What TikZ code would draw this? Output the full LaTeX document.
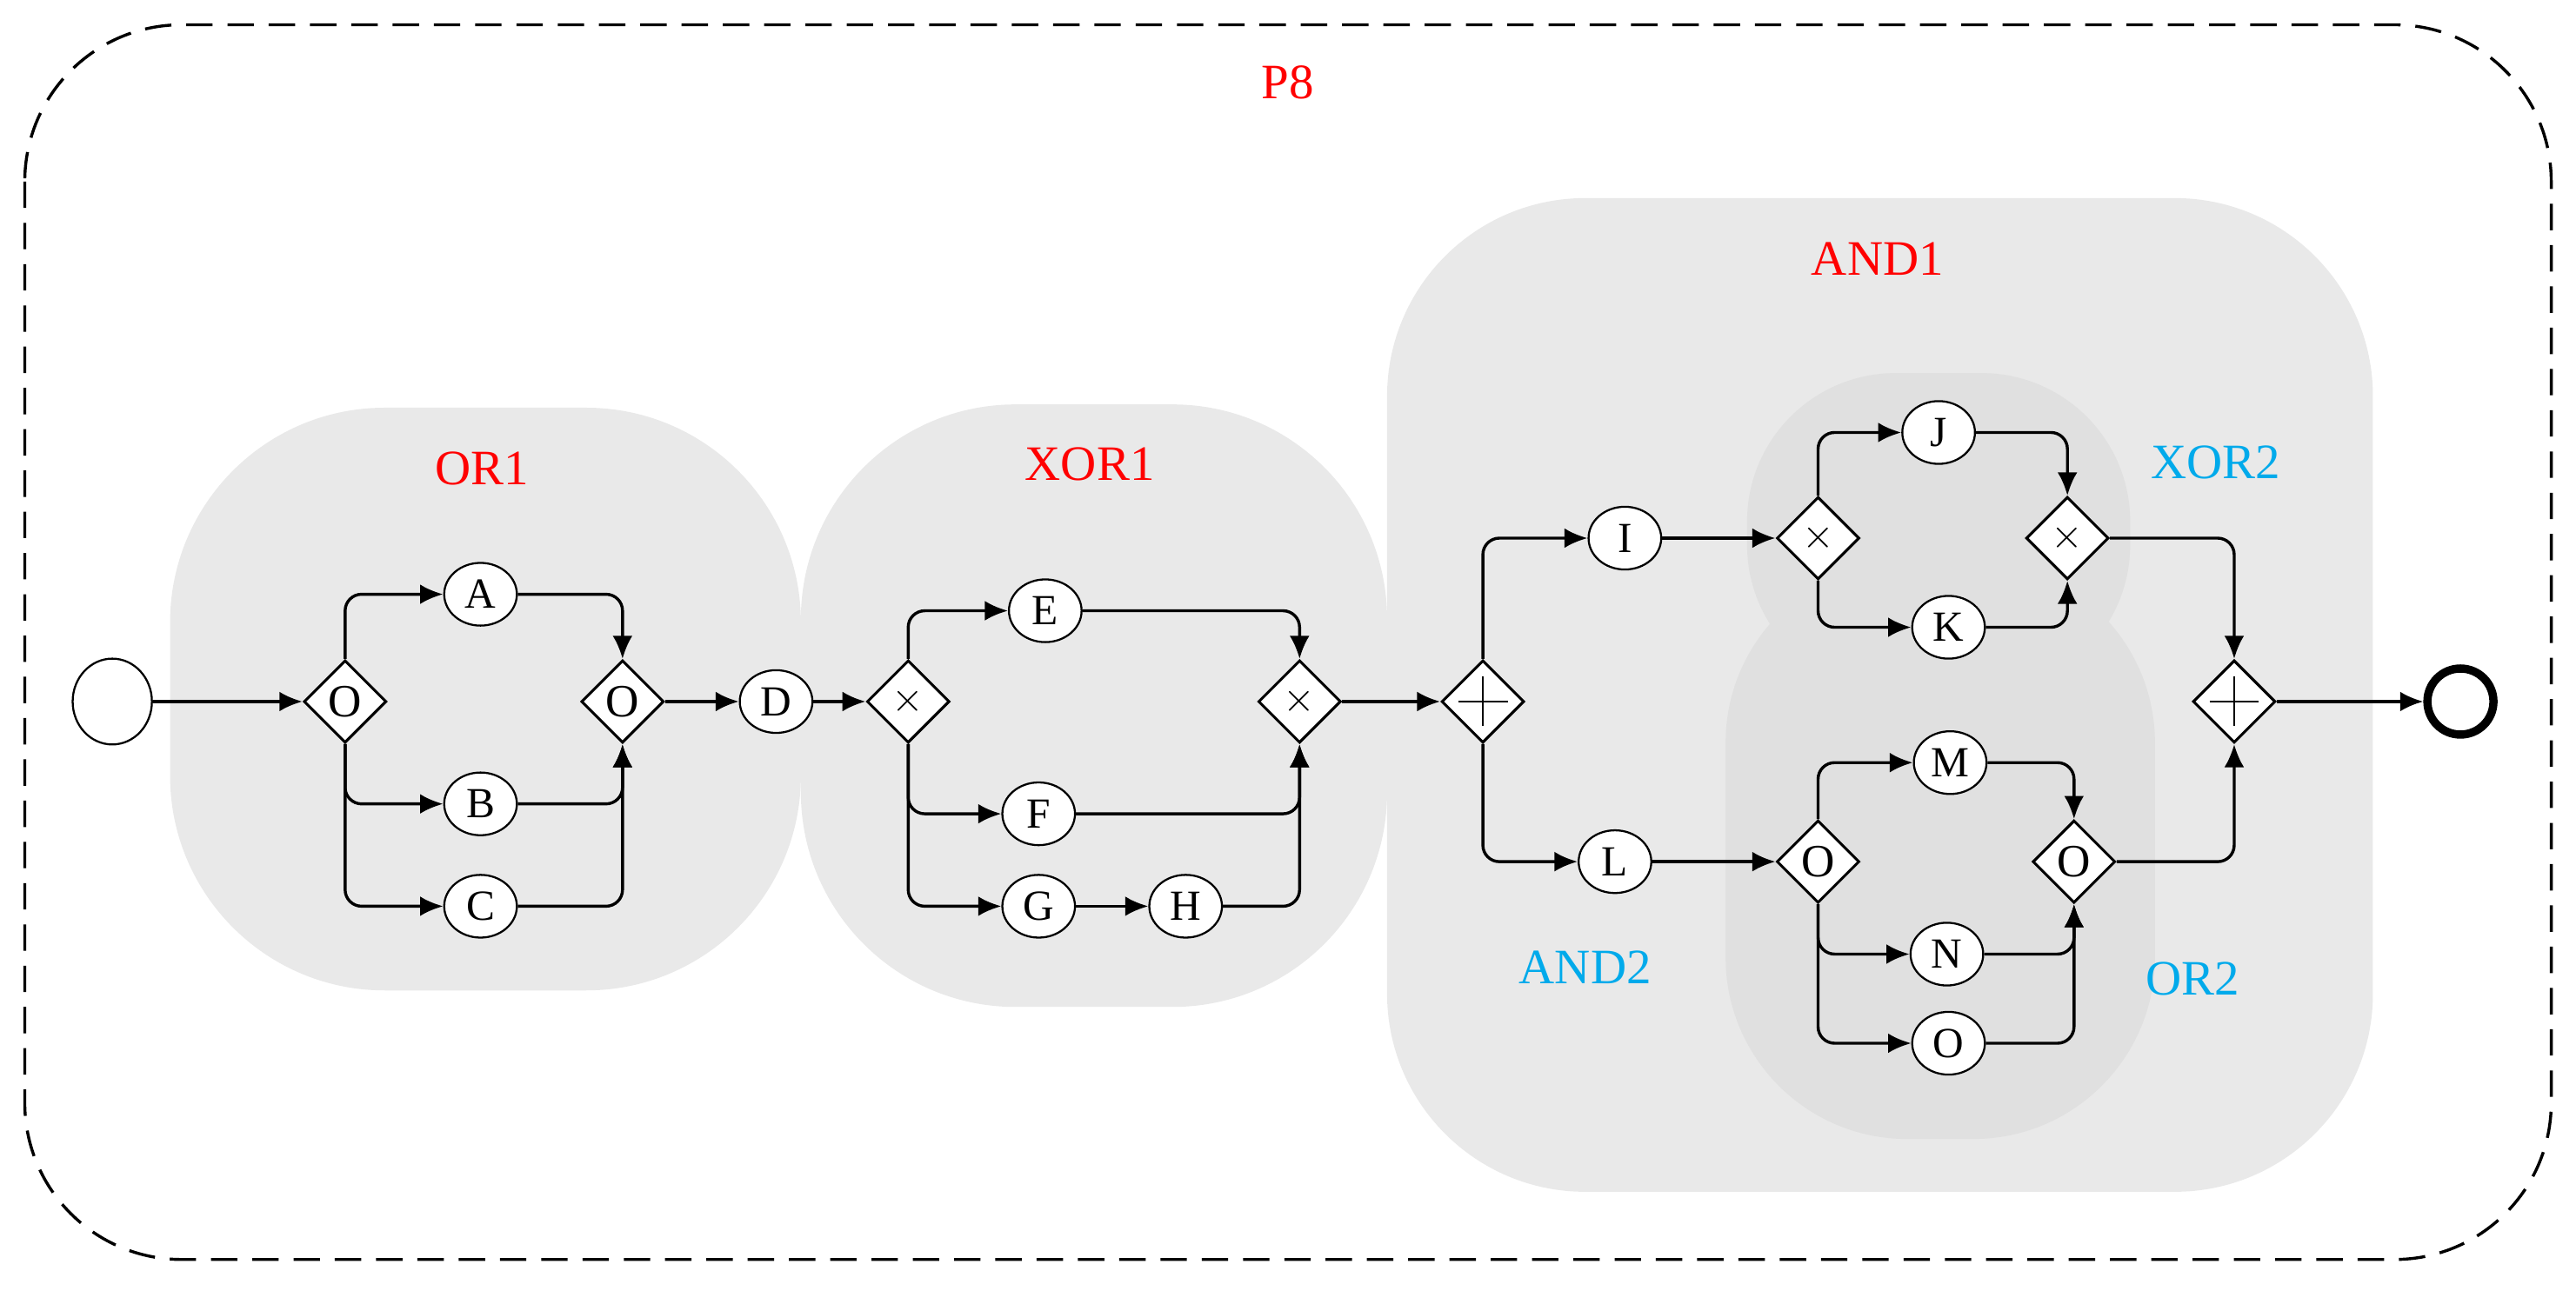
\documentclass[tikz,border=0pt]{standalone}
\usepackage{fontspec}
\setmainfont{Liberation Serif}
\usetikzlibrary{shapes.geometric,arrows.meta}
\definecolor{grp}{RGB}{233,233,233}
\definecolor{grpd}{RGB}{224,224,224}
\definecolor{cy}{RGB}{0,170,235}
\begin{document}
\begin{tikzpicture}[x=1pt,y=-1pt,
  task/.style={ellipse,draw,fill=white,line width=1.2pt,minimum width=44pt,minimum height=38pt,inner sep=0pt,font=\fontsize{26}{26}\selectfont},
  gw/.style={diamond,draw,fill=white,line width=1.6pt,minimum width=50pt,minimum height=50pt,inner sep=0pt,font=\fontsize{28}{28}\selectfont},
  fl/.style={line width=1.8pt,-{Latex[length=14pt,width=12pt]},rounded corners=10pt},
  red/.style={text=red,font=\fontsize{30}{30}\selectfont},
  blu/.style={text=cy,font=\fontsize{30}{30}\selectfont}]
\useasboundingbox (0,0) rectangle (1560,782);
\draw[line width=1.8pt,dash pattern=on 16pt off 9pt,rounded corners=95pt] (15,15) rectangle (1545,763);
\node[red] (p8) at (780,50) {P8};
% groups
\fill[grp,rounded corners=130pt] (103,247) rectangle (485,600);
\fill[grp,rounded corners=130pt] (485,245) rectangle (840,610);
\fill[grp,rounded corners=120pt] (840,120) rectangle (1437,722);
\fill[grpd,rounded corners=90pt] (1058,226) rectangle (1290,420);
\fill[grpd,rounded corners=110pt] (1045,340) rectangle (1305,690);
\node[red] (or1) at (292,284) {OR1};
\node[red] (xor1) at (660,281) {XOR1};
\node[red] (and1) at (1137,157) {AND1};
\node[blu] (xor2) at (1342,280) {XOR2};
\node[blu] (or2) at (1328,593) {OR2};
\node[blu] (and2) at (960,586) {AND2};
% nodes
\node[ellipse,draw,fill=white,line width=1.2pt,minimum width=48pt,minimum height=52pt] (s) at (68,425) {};
\node[circle,draw,fill=white,line width=5pt,minimum size=40pt] (e) at (1490,425) {};
\node[gw] (g1) at (209,425) {O};
\node[gw] (g2) at (377,425) {O};
\node[gw] (g3) at (550,425) {$\times$};
\node[gw] (g4) at (787,425) {$\times$};
\node[gw] (g5) at (898,425) {};
\node[gw] (g6) at (1101,326) {$\times$};
\node[gw] (g7) at (1252,326) {$\times$};
\node[gw] (g8) at (1101,522) {O};
\node[gw] (g9) at (1256,522) {O};
\node[gw] (g10) at (1353,425) {};
\foreach \g in {g5,g10}{\draw[line width=1.3pt] ([yshift=-15pt]\g.center) -- ([yshift=15pt]\g.center) ([xshift=-15pt]\g.center) -- ([xshift=15pt]\g.center);}
\node[task] (A) at (291,360) {A};
\node[task] (B) at (291,487) {B};
\node[task] (C) at (291,549) {C};
\node[task] (D) at (470,425) {D};
\node[task] (E) at (633,370) {E};
\node[task] (F) at (629,493) {F};
\node[task] (G) at (629,549) {G};
\node[task] (H) at (718,549) {H};
\node[task] (I) at (984,326) {I};
\node[task] (L) at (978,522) {L};
\node[task] (J) at (1174,262) {J};
\node[task] (K) at (1180,380) {K};
\node[task] (M) at (1181,462) {M};
\node[task] (N) at (1179,578) {N};
\node[task] (O) at (1180,632) {O};
% flows
\draw[fl] (s) -- (g1);
\draw[fl] (g1.north) |- (A);
\draw[fl] (g1.south) |- (B);
\draw[fl] (g1.south) |- (C);
\draw[fl] (A) -| (g2.north);
\draw[fl] (B) -| (g2.south);
\draw[fl] (C) -| (g2.south);
\draw[fl] (g2) -- (D);
\draw[fl] (D) -- (g3);
\draw[fl] (g3.north) |- (E);
\draw[fl] (g3.south) |- (F);
\draw[fl] (g3.south) |- (G);
\draw[fl] (G) -- (H);
\draw[fl] (E) -| (g4.north);
\draw[fl] (F) -| (g4.south);
\draw[fl] (H) -| (g4.south);
\draw[fl] (g4) -- (g5);
\draw[fl] (g5.north) |- (I);
\draw[fl] (g5.south) |- (L);
\draw[fl] (I) -- (g6);
\draw[fl] (L) -- (g8);
\draw[fl] (g6.north) |- (J);
\draw[fl] (g6.south) |- (K);
\draw[fl] (J) -| (g7.north);
\draw[fl] (K) -| (g7.south);
\draw[fl] (g8.north) |- (M);
\draw[fl] (g8.south) |- (N);
\draw[fl] (g8.south) |- (O);
\draw[fl] (M) -| (g9.north);
\draw[fl] (N) -| (g9.south);
\draw[fl] (O) -| (g9.south);
\draw[fl] (g7) -| (g10.north);
\draw[fl] (g9) -| (g10.south);
\draw[fl] (g10) -- (e);
\end{tikzpicture}
\end{document}
